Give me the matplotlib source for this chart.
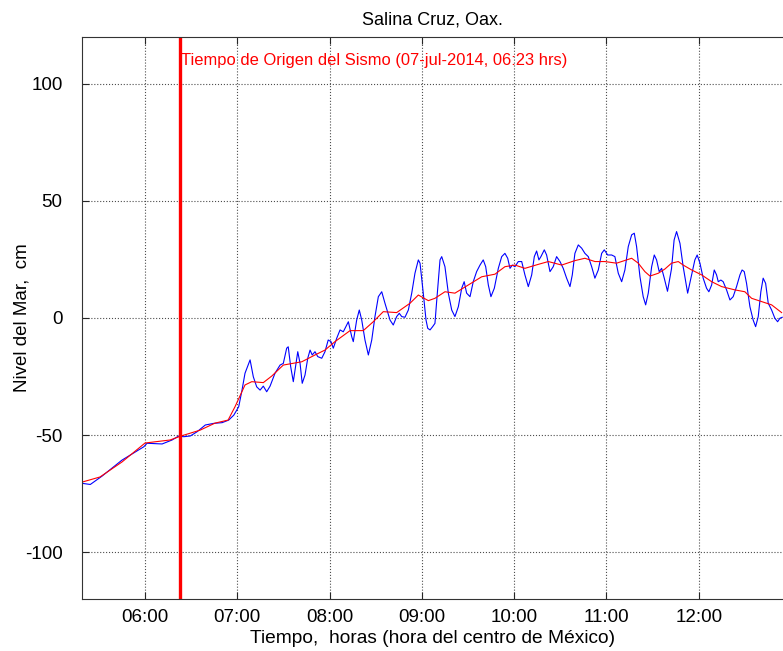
import matplotlib
matplotlib.use("Agg")
import matplotlib.pyplot as plt
from matplotlib.ticker import FixedLocator, FuncFormatter

plt.rcParams['font.family'] = ['Liberation Sans', 'DejaVu Sans']
plt.rcParams['axes.unicode_minus'] = False

# time in minutes after midnight, sea level in cm
obs_t = [319.0, 324.4, 332.1, 345.0, 359.2, 361.3, 371.1, 377.6, 381.9, 385.2,
         389.4, 393.8, 399.2, 404.7, 410.1, 414.4, 417.7, 420.9, 423.0, 425.0,
         428.3, 430.4, 432.6, 434.8, 436.9, 439.1, 441.3, 444.5, 447.8, 449.9,
         452.1, 453.1, 454.7, 456.4, 458.0, 459.3, 460.8, 462.2, 464.0, 465.8,
         467.3, 468.7, 470.5, 472.3, 474.9, 477.0, 479.1, 480.9, 482.4, 484.6,
         486.8, 488.9, 492.2, 494.4, 495.4, 497.6, 499.3, 500.9, 503.0, 505.2,
         507.4, 509.5, 511.7, 513.9, 516.0, 519.3, 521.4, 523.6, 525.3, 526.9,
         529.0, 531.2, 533.4, 535.5, 537.7, 538.8, 540.9, 542.7, 543.8, 545.3,
         547.0, 548.5, 549.6, 551.8, 552.9, 555.0, 557.2, 559.4, 561.5, 563.7,
         565.9, 567.5, 569.1, 571.3, 573.4, 575.6, 577.8, 579.9, 581.5, 583.2,
         584.9, 587.1, 589.7, 591.9, 594.0, 595.8, 597.3, 598.8, 600.5, 602.7,
         604.9, 607.0, 609.2, 611.4, 613.1, 614.6, 616.1, 617.4, 619.6, 621.1,
         623.3, 625.4, 627.6, 629.8, 631.9, 634.1, 636.3, 637.8, 639.5, 641.7,
         643.9, 646.0, 648.2, 650.4, 652.5, 654.7, 656.9, 658.6, 660.8, 663.4,
         665.5, 667.7, 669.9, 672.0, 674.2, 676.4, 678.1, 679.6, 681.8, 683.9,
         685.5, 687.2, 689.4, 691.1, 692.6, 694.3, 695.9, 697.6, 699.7, 702.3,
         704.0, 705.6, 707.8, 709.9, 712.8, 714.9, 717.5, 719.0, 720.8, 722.9,
         725.1, 726.6, 728.4, 730.1, 731.6, 732.7, 734.4, 735.9, 738.1, 740.3,
         742.4, 744.6, 746.8, 748.2, 749.6, 751.1, 753.3, 755.4, 757.0, 758.7,
         760.4, 761.9, 763.5, 765.2, 767.4, 769.5, 771.3, 772.8, 774.3]
obs_cm = [-70.6, -71.1, -67.5, -60.7, -55.0, -53.5, -53.8, -52.1, -50.4, -50.7,
          -50.4, -48.6, -45.7, -45.0, -44.7, -43.6, -41.5, -37.9, -31.0, -23.6,
          -17.9, -25.1, -29.4, -30.8, -29.1, -31.5, -29.1, -23.6, -20.1, -19.4,
          -12.9, -12.3, -20.8, -27.2, -20.1, -14.4, -19.4, -27.9, -24.4, -17.2,
          -13.7, -15.8, -14.4, -16.5, -17.2, -14.4, -9.4, -10.1, -12.9, -8.7,
          -5.1, -5.9, -1.6, -8.0, -10.1, -0.9, 3.4, -0.9, -9.4, -15.8,
          -9.4, 0.6, 9.1, 11.2, 6.3, -0.9, -3.0, 0.6, 2.0, 0.6,
          0.3, 3.4, 10.6, 19.1, 24.8, 23.4, 10.6, -0.9, -4.4, -5.1,
          -3.7, -2.3, 7.0, 24.8, 26.2, 21.9, 10.6, 3.4, 0.6, 4.8,
          12.7, 15.5, 10.6, 9.1, 15.5, 19.8, 22.6, 24.8, 21.9, 14.1,
          9.1, 12.7, 21.2, 26.2, 27.6, 25.5, 21.2, 22.6, 21.9, 24.1,
          24.1, 18.4, 13.4, 18.4, 26.2, 28.6, 24.8, 26.2, 29.1, 26.9,
          19.8, 21.9, 26.2, 24.1, 21.2, 17.0, 13.4, 18.4, 27.6, 31.2,
          29.8, 27.6, 26.2, 21.9, 17.0, 20.5, 27.6, 29.1, 26.9, 26.9,
          26.2, 19.1, 15.5, 20.5, 30.5, 35.5, 36.2, 30.5, 17.6, 9.1,
          5.6, 10.6, 21.9, 26.9, 24.8, 19.8, 21.2, 17.0, 11.4, 21.0,
          33.3, 36.9, 31.9, 21.9, 10.6, 17.0, 24.8, 26.9, 23.4, 17.0,
          12.7, 11.2, 14.1, 20.5, 18.4, 15.5, 16.2, 15.5, 12.0, 7.7,
          9.1, 13.4, 18.4, 20.5, 19.8, 14.8, 4.8, -0.9, -3.7, 0.6,
          11.2, 17.0, 14.8, 6.3, 3.4, -0.1, -1.6, -0.1, 0.3]

tide_t = [319.0, 330.7, 345.0, 360.0, 376.3, 383.4, 395.8, 405.5, 414.0, 418.5,
          425.0, 429.4, 436.9, 442.4, 449.9, 461.9, 470.5, 477.0, 483.5, 493.3,
          501.9, 508.4, 514.9, 523.6, 532.3, 537.7, 544.2, 548.5, 555.0, 561.5,
          570.2, 578.9, 587.5, 594.0, 600.5, 607.0, 615.7, 622.2, 630.9, 639.5,
          646.0, 652.5, 659.0, 666.6, 673.1, 676.4, 680.7, 685.0, 688.3, 693.7,
          698.0, 702.3, 706.7, 709.9, 715.4, 721.9, 728.4, 734.9, 743.5, 750.0,
          754.4, 760.9, 767.4, 773.9]
tide_cm = [-70.1, -67.9, -61.5, -53.4, -52.1, -50.4, -47.9, -44.9, -43.6, -37.9,
           -28.6, -27.2, -27.6, -24.8, -20.1, -18.7, -15.8, -13.7, -10.1, -5.4,
           -5.4, -1.6, 2.7, 2.3, 6.3, 9.8, 7.4, 8.4, 11.2, 10.6,
           14.1, 17.6, 18.7, 21.9, 22.6, 21.2, 22.9, 24.1, 22.6, 24.5,
           25.5, 24.1, 24.1, 23.4, 24.8, 25.5, 23.4, 19.8, 17.9, 19.1,
           20.9, 23.4, 24.1, 22.6, 20.5, 18.4, 15.5, 13.4, 12.0, 11.2,
           8.4, 7.0, 5.6, 2.3]

quake_t = 383.0  # 06:23
quake_label = 'Tiempo de Origen del Sismo (07-jul-2014, 06:23 hrs)'
hour_ticks = [360, 420, 480, 540, 600, 660, 720]
level_ticks = [-100, -50, 0, 50, 100]

fig = plt.figure(figsize=(7.83, 6.51), dpi=100)
ax = fig.add_axes([0.1047, 0.0799, 0.8953, 0.8633])

ax.plot(obs_t, obs_cm, color='#0000ff', linewidth=0.8)
ax.plot(tide_t, tide_cm, color='#ff0000', linewidth=0.8)
ax.axvline(quake_t, color='#ff0000', linewidth=2.4)
ax.text(quake_t + 0.5, 110, quake_label, color='#ff0000', fontsize=11.9,
        va='center', ha='left')

ax.set_xlim(319.0, 774.8)
ax.set_ylim(-120, 120)
ax.xaxis.set_major_locator(FixedLocator(hour_ticks))
ax.xaxis.set_major_formatter(FuncFormatter(lambda v, p: '%02d:%02d' % (v // 60, v % 60)))
ax.yaxis.set_major_locator(FixedLocator(level_ticks))

ax.grid(True, linestyle=':', color='0.3', linewidth=0.8)
ax.tick_params(direction='in', length=5, width=0.8, labelsize=13.5,
               top=True, right=False, colors='0.15', labelcolor='black')
ax.tick_params(axis='x', pad=7)
ax.tick_params(axis='y', pad=14)
for s in ax.spines.values():
    s.set_color('0.2')
    s.set_linewidth(0.8)
ax.spines['right'].set_visible(False)

ax.set_title('Salina Cruz, Oax.', fontsize=13, pad=9)
ax.set_xlabel('Tiempo,  horas (hora del centro de México)', fontsize=13.8, labelpad=3)
ax.set_ylabel('Nivel del Mar,  cm', fontsize=13.5, labelpad=-4)

fig.savefig('out.png', dpi=100)
